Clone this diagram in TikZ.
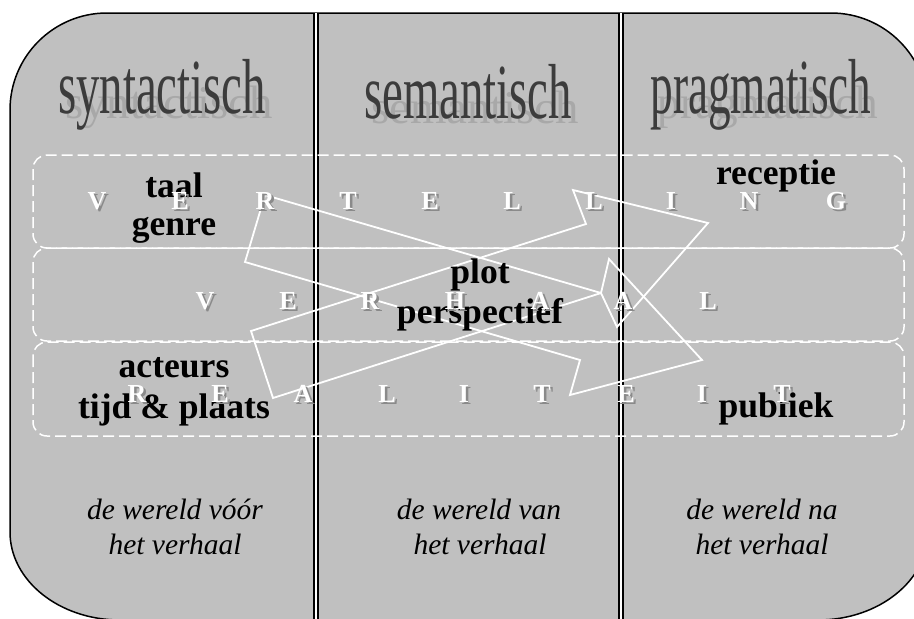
\documentclass[tikz,border=0pt]{standalone}
\usepackage{fontspec}
\setmainfont{Liberation Serif}
\usepackage{graphicx}

\definecolor{panel}{HTML}{C0C0C0}
\definecolor{kopgrijs}{HTML}{3C3C3C}
\definecolor{schaduw}{HTML}{A8A8A8}
\definecolor{letterschaduw}{HTML}{8A8A8A}

\tikzset{
    kop/.style={anchor=base, text=kopgrijs, font=\fontsize{78}{80}\selectfont},
    kopschaduw/.style={anchor=base, text=schaduw, font=\fontsize{78}{80}\selectfont},
    term/.style={anchor=base, font=\fontsize{35.6}{40}\selectfont\bfseries},
    wereld/.style={anchor=base, font=\fontsize{29.5}{36}\selectfont\itshape},
    band/.style={draw=white, line width=1.5pt, dash pattern=on 11pt off 5pt, rounded corners=14pt},
    pijl/.style={draw=white, line width=1.8pt, line join=miter},
    letter/.style={anchor=base, font=\fontsize{26}{26}\selectfont\bfseries},
    scheiding/.style={draw=black, double=white, double distance=1.6pt, line width=2pt},
}

\begin{document}
\begin{tikzpicture}[x=1pt, y=-1pt]
        \useasboundingbox (0,0) rectangle (914,619);
        \fill[white] (0,0) rectangle (914,619);

        % panel, runs off the page at the right and bottom
        \draw[fill=panel, line width=1.5pt] (10,532) -- (10,110)
            arc[start angle=180, end angle=270, radius=97] -- (831,13)
            arc[start angle=270, end angle=360, radius=97] -- (928,532)
            arc[start angle=0, end angle=90, x radius=110, y radius=88] -- (120,620)
            arc[start angle=90, end angle=180, x radius=110, y radius=88] -- cycle;

        \draw[scheiding] (315.7,13) -- (315.7,621);
        \draw[scheiding] (621,13) -- (621,621);

        \draw[band] (33,155) rectangle (904,248);
        \draw[band] (33,248) rectangle (904,341);
        \draw[band] (33,342) rectangle (904,436);

        % column heads with a flattened shadow
        \node[kopschaduw] at (169,118) {\scalebox{0.6}[0.6]{syntactisch}};
        \node[kopschaduw] at (475,123) {\scalebox{0.6}[0.6]{semantisch}};
        \node[kopschaduw] at (768,118) {\scalebox{0.58}[0.6]{pragmatisch}};
        \node[kop] (syn) at (162,113) {\scalebox{0.6}[1]{syntactisch}};
        \node[kop] (sem) at (468,118) {\scalebox{0.6}[1]{semantisch}};
        \node[kop] (prag) at (761,113) {\scalebox{0.58}[1]{pragmatisch}};

        % the two crossing arrows
        \draw[pijl] (251,331) -- (586,224) -- (573,190) -- (708,223) -- (617,327) -- (601,293) -- (273,398) -- cycle;
        \draw[pijl] (265,195) -- (601,293) -- (609,259) -- (702,360) -- (570,395) -- (580,360) -- (245,262) -- cycle;

        \node[term] (taal) at (174,197) {taal};
        \node[term] (genre) at (174,235) {genre};
        \node[term] (receptie) at (776,184) {receptie};
        \node[term] (plot) at (480,283) {plot};
        \node[term] (persp) at (480,323) {perspectief};
        \node[term] (acteurs) at (174,377) {acteurs};
        \node[term] (tijd) at (174,418) {tijd \& plaats};
        \node[term] (publiek) at (776,417) {publiek};

        \node[wereld] (voor1) at (175,519) {de wereld vóór};
        \node[wereld] (voor2) at (175,554) {het verhaal};
        \node[wereld] (van1) at (479,519) {de wereld van};
        \node[wereld] (van2) at (480,554) {het verhaal};
        \node[wereld] (na1) at (762,519) {de wereld na};
        \node[wereld] (na2) at (762,554) {het verhaal};

        % spaced out words, white on a grey offset
        \begin{scope}
        \foreach \ch/\x in {V/97,E/180,R/265,T/348,E/430,L/512,L/594,I/671,N/749,G/836} {
            \node[letter, text=letterschaduw] at (\x+2.5,211.5) {\ch};
            \node[letter, text=white] at (\x,209) {\ch};
        }
        \foreach \ch/\x in {V/205,E/288,R/370,H/455,A/540,A/623,L/708} {
            \node[letter, text=letterschaduw] at (\x+2.5,311.5) {\ch};
            \node[letter, text=white] at (\x,309) {\ch};
        }
        \foreach \ch/\x in {R/137,E/220,A/303,L/387,I/464,T/542,E/626,I/702,T/782} {
            \node[letter, text=letterschaduw] at (\x+2.5,404.5) {\ch};
            \node[letter, text=white] at (\x,402) {\ch};
        }
        \end{scope}
\end{tikzpicture}
\end{document}
